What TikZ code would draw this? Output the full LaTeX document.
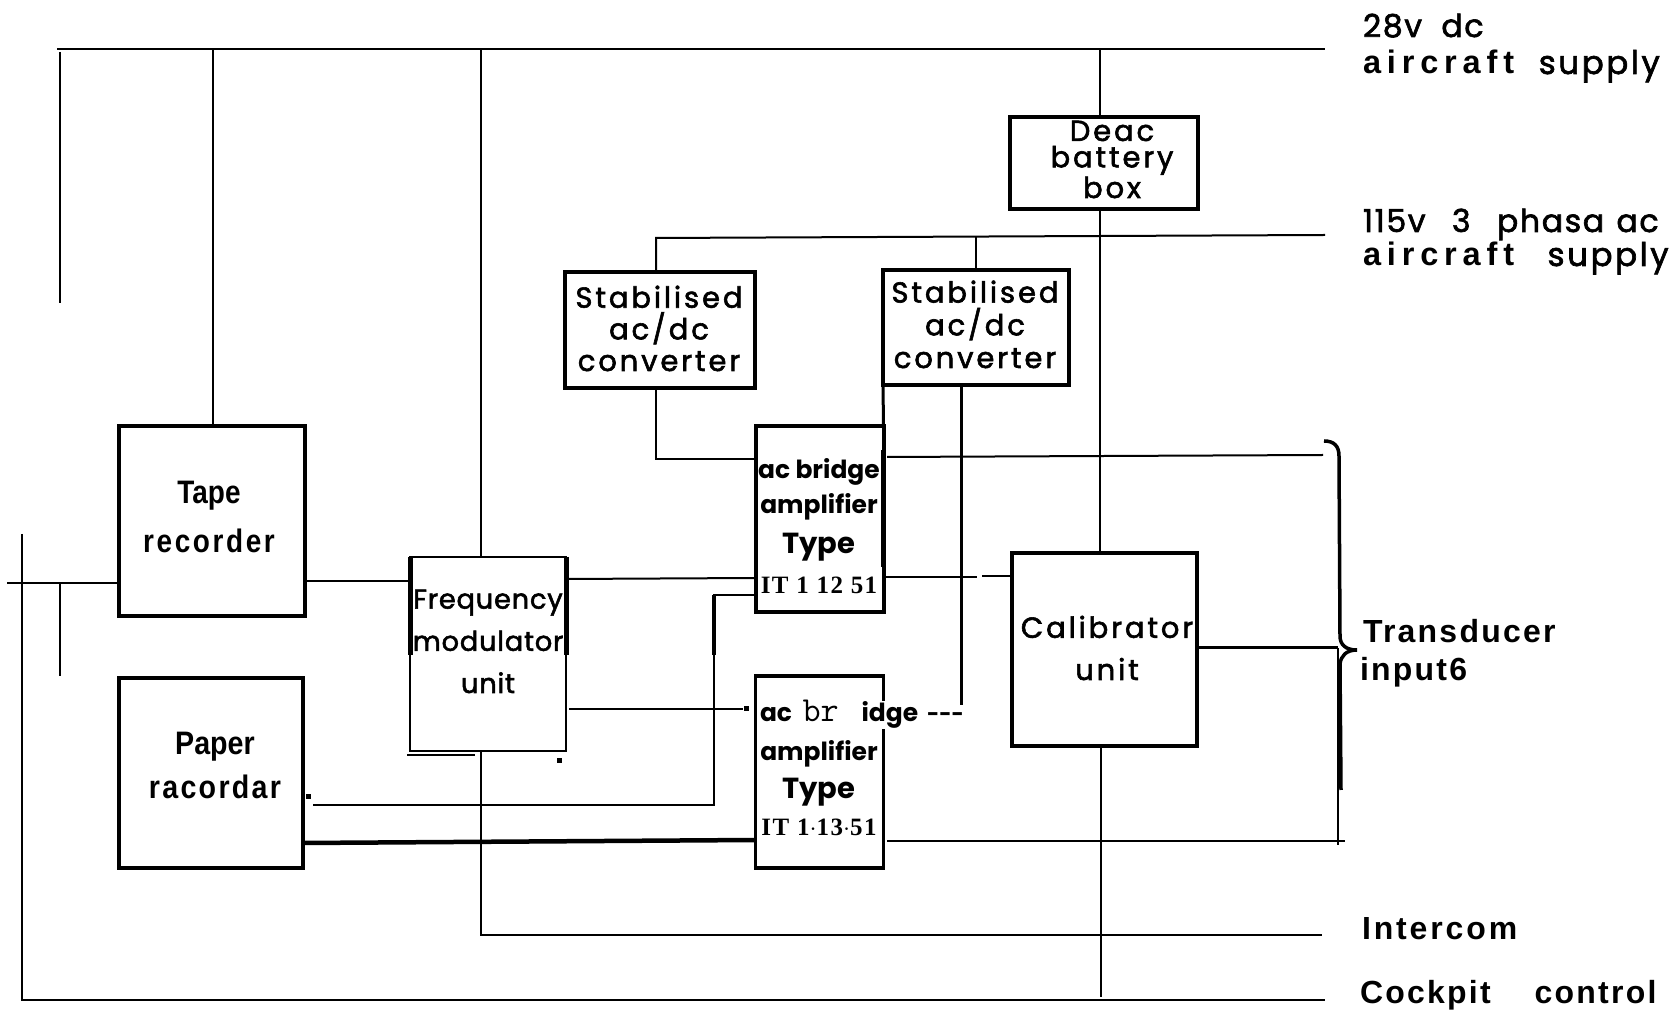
\documentclass[tikz,border=0pt]{standalone}
\usepackage{fontspec}
\setmainfont{Liberation Sans}
\newfontfamily\handfont[FakeBold=2]{Poppins}
\newfontfamily\inkfont{Poppins}
\newfontfamily\slabfont{Liberation Serif}
\newcommand{\spaced}[1]{\addfontfeature{LetterSpace=#1}}
\usepackage{tikz}
\usetikzlibrary{positioning}

\begin{document}
\begin{tikzpicture}[%
    x=0.2mm,y=-0.2mm,
    wire/.style={line width=0.4mm},
    heavy/.style={line width=0.6mm},
    unitbox/.style={draw,rectangle,line width=0.8mm,inner sep=0pt,outer sep=0pt},
    thinbox/.style={draw,rectangle,line width=0.5mm,inner sep=0pt,outer sep=0pt},
    speck/.style={fill=black,rectangle,inner sep=0pt,minimum size=1mm},
    unittext/.style={inner sep=0pt,outer sep=0pt,anchor=base,align=center},
    sidetext/.style={inner sep=0pt,outer sep=0pt,anchor=base west},
    bigsans/.style={font=\bfseries\fontsize{18.2}{22}\selectfont\spaced{#1}},
    lettering/.style={font=\handfont\fontsize{16.5}{#1}\selectfont\spaced{10}},
    inked/.style={font=\inkfont\bfseries\fontsize{14.2}{#1}\selectfont}
]
\path[use as bounding box] (0,0) rectangle (1680,1018);

% ---------------- Units ----------------
\node[unitbox,minimum width=37.2mm,minimum height=38mm] (tape) at (212,521) {};
\node[unitbox,minimum width=36.8mm,minimum height=38mm] (paper) at (211,773) {};
\node[thinbox,minimum width=31.2mm,minimum height=38.8mm] (freq) at (488,654) {};
\node[unitbox,minimum width=38mm,minimum height=23.2mm] (convl) at (660,330) {};
\node[unitbox,minimum width=37.2mm,minimum height=23mm] (convr) at (976,327.5) {};
\node[unitbox,minimum width=25.6mm,minimum height=37.2mm] (ampa) at (819.5,519) {};
\node[thinbox,line width=0.7mm,minimum width=25.6mm,minimum height=38.4mm] (ampb) at (819.5,772) {};
\node[unitbox,minimum width=37mm,minimum height=38.6mm] (calib) at (1104.5,649.5) {};
\node[unitbox,minimum width=37.6mm,minimum height=18.4mm] (deac) at (1104,163) {};

% ---------------- Heavier parts of the box sides ----------------
\draw[line width=1mm] (freq.north west) -- (freq.west |- 0,655);
\draw[line width=1mm] (freq.north east) -- (freq.east |- 0,655);
\draw[line width=1.1mm] (ampa.east |- 0,450) -- (ampa.east |- 0,567);

% ---------------- Unit labels ----------------
\node[unittext,font=\bfseries\addfontfeature{FakeStretch=0.86}\fontsize{18.5}{28.4}\selectfont] (tapetext) at (209,553)
    {Tape\\{\spaced{8}recorder}};
\node[unittext,font=\bfseries\addfontfeature{FakeStretch=0.88}\fontsize{18.5}{25.6}\selectfont] (papertext) at (215,799)
    {Paper\\{\spaced{7}racordar}};
\node[unittext,lettering=18] (convltext) at (659,371) {Stabilised\\ac/dc\\converter};
\node[unittext,lettering=18.6] (convrtext) at (975,368) {Stabilised\\ac/dc\\converter};
\node[unittext,lettering=15] (deactext) at (1112,198) {Deac\\battery\\box};
\node[unittext,lettering=24] (calibtext) at (1107,680) {Calibrator\\unit};
\node[unittext,font=\handfont\fontsize{15.5}{24}\selectfont\spaced{3}] (freqtext) at (488,693)
    {Frequency\\modulator\\unit};
\node[unittext,inked=23] (ampatext) at (819,594)
    {ac bridge\\[-3.5pt]amplifier\\{\fontsize{16.5}{23}\selectfont Type}\\{\slabfont\spaced{6}IT 1 12 51}};
\node[unittext,inked=21.6] (ampbtext) at (819,836)
    {amplifier\\{\fontsize{16.5}{23}\selectfont Type}\\{\slabfont\spaced{6}IT 1$\cdot$13$\cdot$51}};
\node[sidetext,fill=white,inked=16] (ampbhead) at (760,722)
    {ac\hspace{6pt}{\ttfamily\mdseries\fontsize{20}{20}\selectfont br}\hspace{13pt}idge\hspace{5pt}{\fontsize{12}{16}\selectfont ---}};

% ---------------- Free ends ----------------
\coordinate (railtopl) at (57,49);
\coordinate (railtopr) at (1325,49);
\coordinate (railacr) at (1325,235);
\coordinate (stubtop) at (60,52);
\coordinate (stubend) at (60,303);
\coordinate (leftbus) at (21.5,534);
\coordinate (busend) at (21.5,1000);
\coordinate (busright) at (1325,1000);
\coordinate (intercom) at (1322,935);
\coordinate (tapein) at (7,583);
\coordinate (dropend) at (60,676);
\coordinate (probeend) at (1323,455);
\coordinate (ampbout) at (1345,841);
\coordinate (bracejoin) at (1338,648);
\coordinate (bracefoot) at (1338,845);
\coordinate (calibdown) at (1101,997);

% ---------------- Power rails ----------------
\draw[wire,line width=0.5mm] (railtopl) -- (railtopr);
\draw[wire,line width=0.5mm] (stubtop) -- (stubend);
\draw[wire] (213,49) -- (213,426);
\draw[wire] (481,557) -- (481,49);
\draw[wire] (1099.5,49) -- (1099.5,117);
\draw[wire] (1100,209) -- (1100,553);
\draw[wire] (railacr) -- (656,238) -- (656,272);
\draw[wire] (convr.north) -- (convr.north |- 0,236);

% ---------------- Signal wires ----------------
\draw[wire] (tapein) -- (tape.west |- tapein);
\draw[wire] (leftbus) -- (busend) -- (busright);
\draw[wire] (60,583) -- (dropend);
\draw[wire] (tape.east |- 0,581) -- (freq.west |- 0,581);
\draw[wire] (freq.east |- 0,579) -- (ampa.west |- 0,578);
\draw[wire] (freq.east |- 0,709) ++(3,0) -- (743,709);
\node[speck] (tickb) at (746,709) {};
\draw[wire] (313,805) -- (714,805) -- (714,595) -- (ampa.west |- 0,595);
\draw[line width=0.9mm] (714,595) -- (714,655);
\draw[line width=0.9mm] (paper.east |- 0,843) -- (ampb.west |- 0,840);
\draw[wire] (656,388) -- (656,459) -- (ampa.west |- 0,459);
\draw[heavy] (convr.south west) -- (ampa.north east);
\draw[wire] (887,457) -- (probeend);
\draw[heavy] (961,385) -- (961,705);
\draw[wire,line width=0.5mm] (886,577) -- (977,577);
\draw[wire] (982,576) -- (calib.west |- 0,576);
\draw[wire] (481,751) -- (481,935) -- (intercom);
\draw[wire] (407,755) -- (475,755);
\draw[wire] (1101,746) -- (calibdown);
\draw[heavy] (calib.east |- bracejoin) -- (bracejoin);
\draw[wire] (bracejoin) -- (bracefoot);
\draw[wire] (887,841) -- (ampbout);
\node[speck] (specka) at (559,761) {};
\node[speck] (speckb) at (308,797) {};

% ---------------- Input brace ----------------
\draw[line width=0.7mm] (1324,441) .. controls (1334,441) and (1339,446) .. (1339,456)
    -- (1340,636) .. controls (1340,645) and (1346,650) .. (1357,650)
    .. controls (1346,650) and (1341,656) .. (1340,664) -- (1341,790);

% ---------------- Outside connections ----------------
\node[sidetext,font=\handfont\fontsize{18}{22}\selectfont\spaced{5}] (dctext) at (1363,37) {28v\hspace{11pt}dc};
\node[sidetext,font=\bfseries\fontsize{18.5}{22}\selectfont\spaced{18}] (dcsupply) at (1363,74)
    {aircraft\hspace{14pt}{\mdseries\handfont\spaced{8}supply}};
\node[sidetext,font=\handfont\fontsize{18}{22}\selectfont\spaced{5}] (actext) at (1363,232) {115v\hspace{15pt}3\hspace{15pt}phasa\hspace{7pt}ac};
\node[sidetext,font=\bfseries\fontsize{18.5}{22}\selectfont\spaced{18}] (acsupply) at (1363,266)
    {aircraft\hspace{19pt}{\mdseries\handfont\spaced{8}supply}};
\node[sidetext,bigsans=7] (transtext) at (1363,643) {Transducer};
\node[sidetext,bigsans=7] (inputtext) at (1360,681) {input6};
\node[sidetext,bigsans=9] (intertext) at (1362,940) {Intercom};
\node[sidetext,bigsans=7] (cockpit) at (1360,1004) {Cockpit\hspace{25pt}control};

\end{tikzpicture}
\end{document}
